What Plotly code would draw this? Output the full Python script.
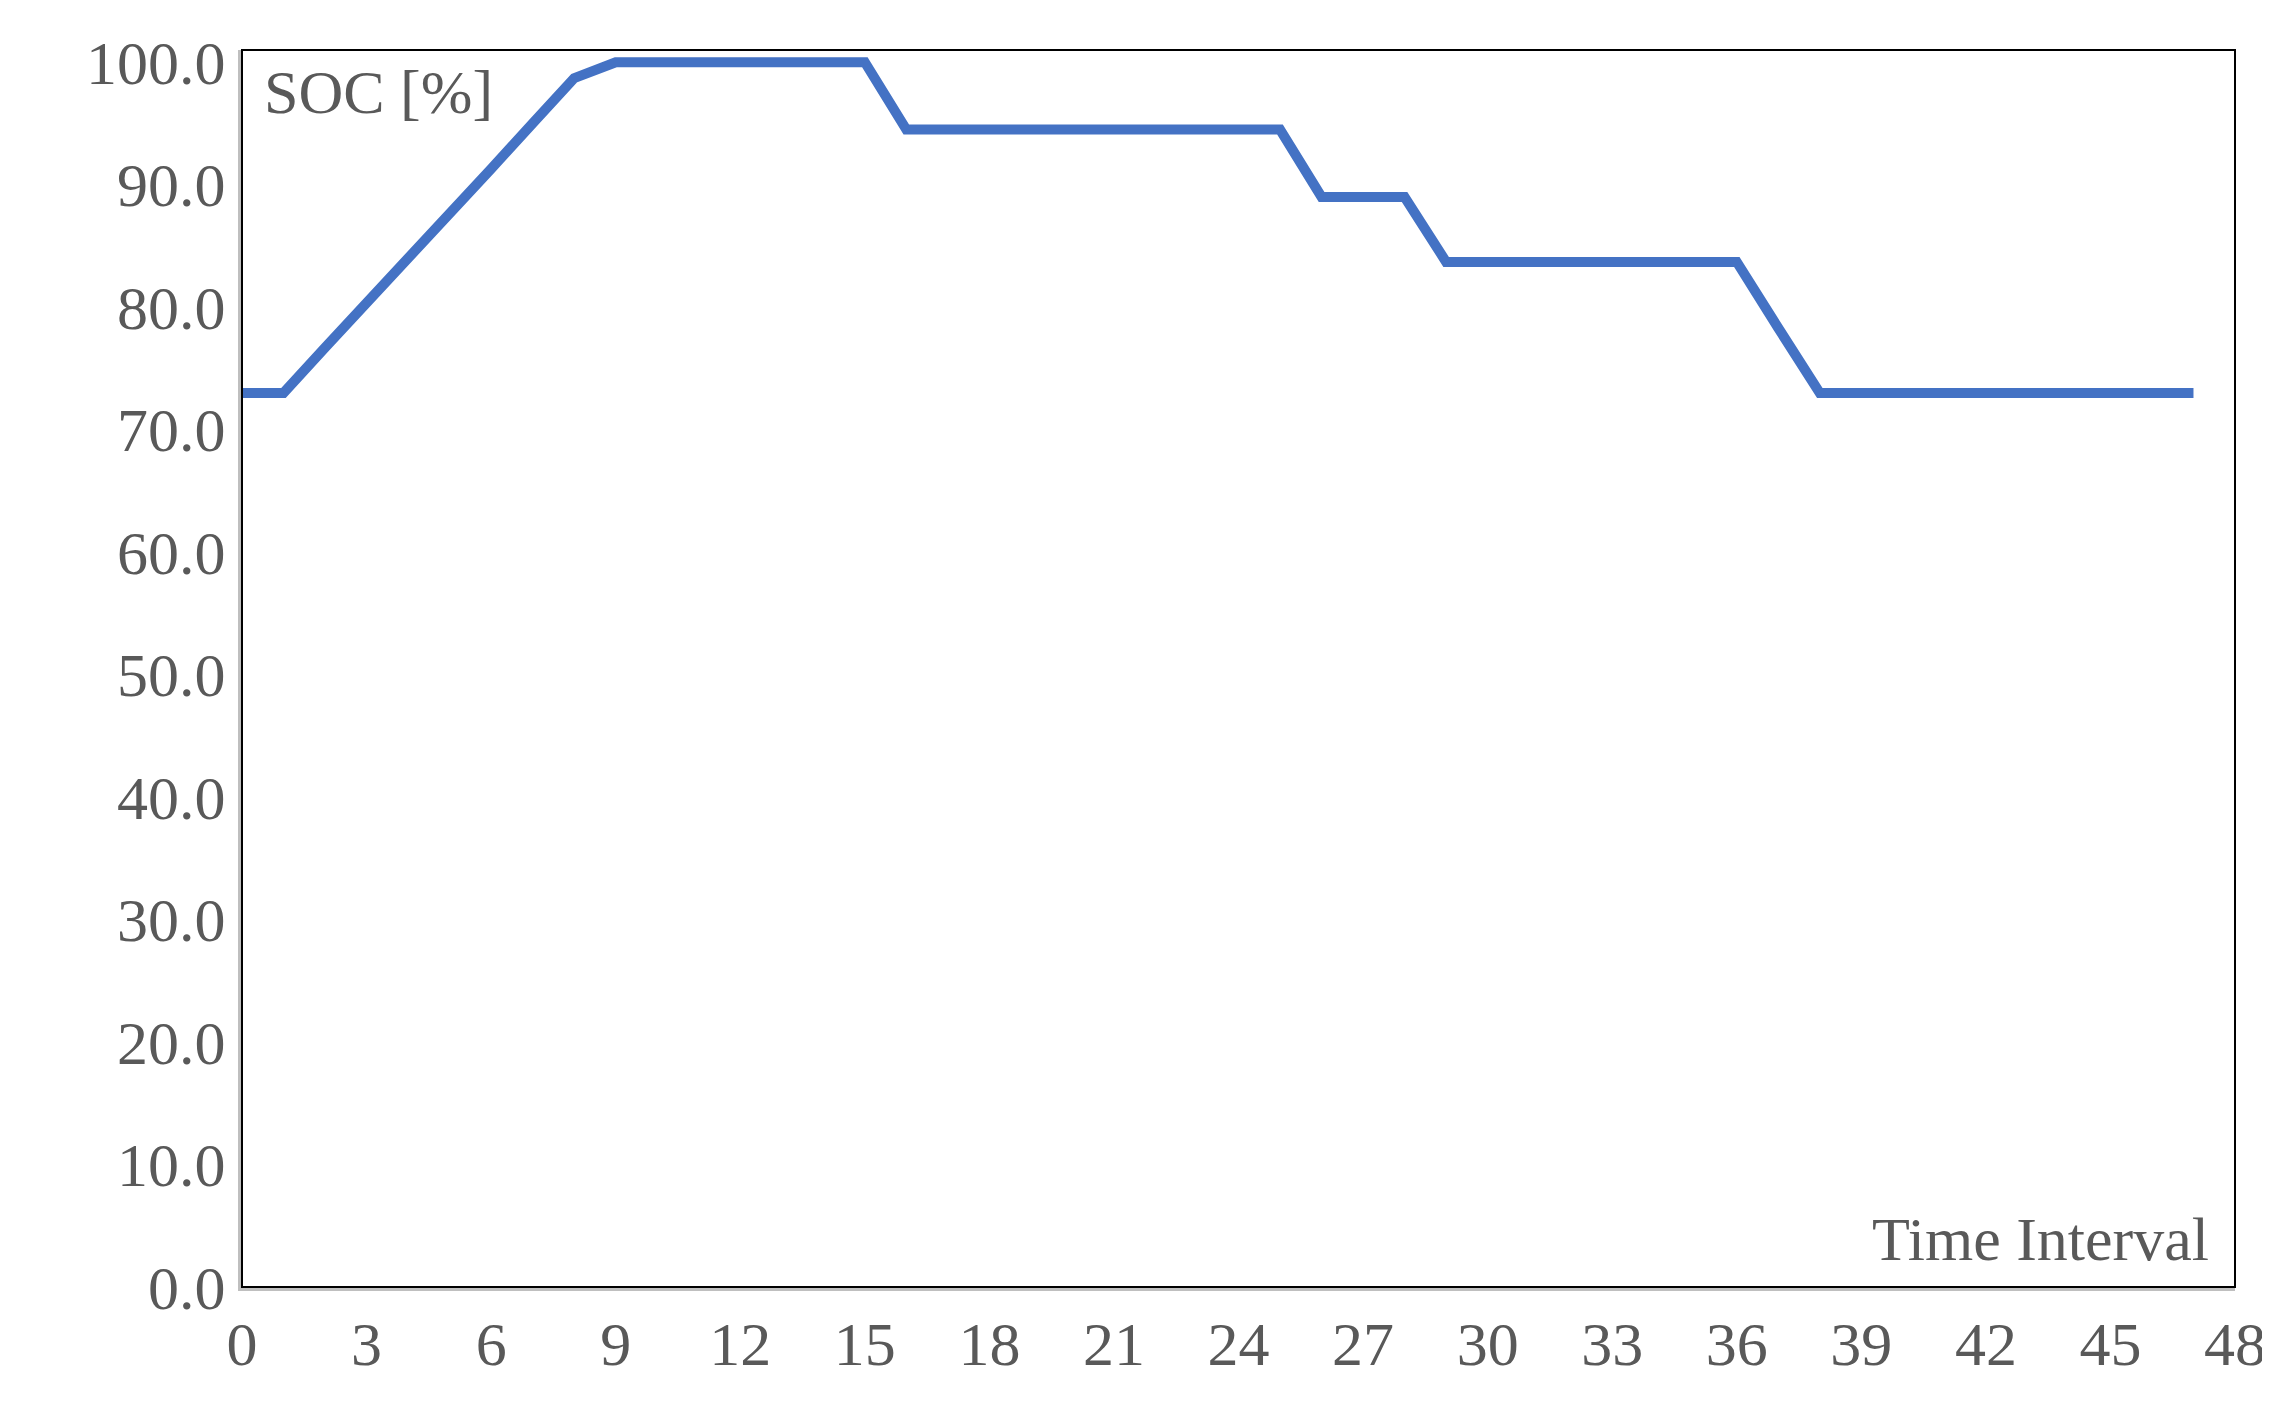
import plotly.graph_objects as go

time_interval = list(range(48))
soc = [73, 73, 76.7, 80.3, 84, 87.7, 91.3, 95, 98.7, 100, 100, 100, 100, 100, 100, 100,
       94.5, 94.5, 94.5, 94.5, 94.5, 94.5, 94.5, 94.5, 94.5, 94.5,
       89, 89, 89, 83.7, 83.7, 83.7, 83.7, 83.7, 83.7, 83.7, 83.7, 78.3,
       73, 73, 73, 73, 73, 73, 73, 73, 73, 73]
x_ticks = list(range(0, 49, 3))
y_ticks = [i * 10 for i in range(11)]

font = dict(family="Liberation Serif", size=62, color="#595959")
fig = go.Figure(go.Scatter(x=time_interval, y=soc, mode="lines",
                           line=dict(color="#4472C4", width=10), showlegend=False))
fig.update_layout(
    width=2270, height=1416, paper_bgcolor="white", plot_bgcolor="white",
    margin=dict(l=234, r=43, t=42, b=137), font=font,
    shapes=[dict(type="rect", xref="paper", yref="paper", x0=0, x1=1, y0=0, y1=1,
                 line=dict(color="black", width=2))],
    annotations=[
        dict(text="SOC [%]", xref="paper", yref="paper", x=0.01, y=0.995,
             xanchor="left", yanchor="top", showarrow=False, font=font),
        dict(text="Time Interval", xref="paper", yref="paper", x=0.988, y=0.01,
             xanchor="right", yanchor="bottom", showarrow=False, font=font),
    ],
)
fig.update_xaxes(range=[0, 48], tickvals=x_ticks, showgrid=False, zeroline=False,
                 showline=True, linecolor="#bfbfbf", linewidth=4, ticks="", ticklen=0)
fig.update_yaxes(range=[0, 101], tickvals=y_ticks, tickformat=".1f", showgrid=False,
                 zeroline=False, showline=True, linecolor="#bfbfbf", linewidth=4, ticks="")
fig.write_html("out.html")
